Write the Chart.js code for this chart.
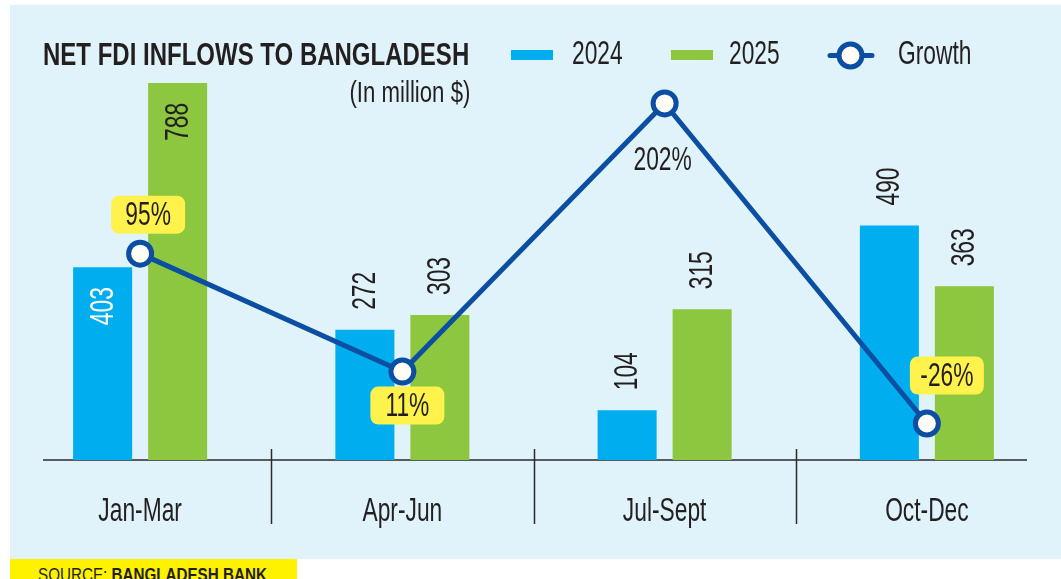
<!DOCTYPE html>
<html>
<head>
<meta charset="utf-8">
<script src="https://cdn.jsdelivr.net/npm/chart.js@4.4.1/dist/chart.umd.min.js"></script>
<style>
  body { margin: 0; width: 1061px; height: 579px; overflow: hidden; position: relative; background: #fff;
         font-family: "Liberation Sans", Arial, sans-serif; color: #231f20; }
  #panel { position: absolute; left: 10px; top: 5px; width: 1051px; height: 554px; background: #e0f3fa; }
  #chartBox { position: absolute; left: 0; top: 0; width: 1061px; height: 579px; }
  #title { position: absolute; left: 43px; top: 38px; font-size: 32px; line-height: 32px; font-weight: bold;
           white-space: nowrap; transform-origin: left top; transform: scaleX(0.75); }
  #sub { position: absolute; right: 591px; top: 77px; font-size: 30px; line-height: 30px; white-space: nowrap;
         transform-origin: right top; transform: scaleX(0.74); }
  #source { position: absolute; left: 10px; top: 559px; width: 287px; height: 20px; background: #fff200; overflow: hidden; }
  #source span { position: absolute; left: 28px; top: 6px; font-size: 19px; line-height: 19px; white-space: nowrap;
                 transform-origin: left top; transform: scaleX(0.8); }
</style>
</head>
<body>
<div id="panel"></div>
<div id="chartBox"><canvas id="fdiChart"></canvas></div>
<div id="title">NET FDI INFLOWS TO BANGLADESH</div>
<div id="sub">(In million $)</div>
<div id="source"><span>SOURCE: <b>BANGLADESH BANK</b></span></div>
<script>
var categories = ["Jan-Mar", "Apr-Jun", "Jul-Sept", "Oct-Dec"];
var fdi2024 = [403, 272, 104, 490];
var fdi2025 = [788, 303, 315, 363];
var growth = [95, 11, 202, -26];

var FONT = '33px "Liberation Sans", Arial, sans-serif';
var NARROW = 0.69;
var DARK = "#231f20";
var BLUE_LINE = "#0b4ea2";

// bar labels drawn inside the bar for these (dataset-index), others sit above
var insideLabels = { "0-0": "#ffffff", "1-0": DARK };
// growth label offsets from the point, and whether it gets a yellow tag
var growthTags = [
  { dx: 8, dy: -39, box: true },
  { dx: 5, dy: 34, box: true },
  { dx: -2, dy: 56, box: false },
  { dx: 20, dy: -48, box: true }
];

// condensed text: the reference uses a narrow face, so squeeze Liberation Sans
function narrowText(ctx, txt, x, y, align, angle) {
  ctx.save();
  ctx.translate(x, y);
  if (angle) ctx.rotate(angle);
  ctx.scale(NARROW, 1);
  ctx.textAlign = align || "center";
  ctx.fillText(txt, 0, 0);
  ctx.restore();
}

var labelPlugin = {
  id: "valueLabels",
  afterDatasetsDraw: function(chart) {
    var ctx = chart.ctx;
    ctx.save();
    ctx.font = FONT;
    ctx.textBaseline = "middle";

    [0, 1].forEach(function(di) {
      var meta = chart.getDatasetMeta(di);
      meta.data.forEach(function(bar, i) {
        var txt = String(chart.data.datasets[di].data[i]);
        var tw = ctx.measureText(txt).width * NARROW;
        var key = di + "-" + i;
        var cy;
        if (insideLabels[key]) {
          ctx.fillStyle = insideLabels[key];
          cy = bar.y + 20 + tw / 2;
        } else {
          ctx.fillStyle = DARK;
          cy = bar.y - 20 - tw / 2;
        }
        narrowText(ctx, txt, bar.x + 1, cy, "center", -Math.PI / 2);
      });
    });

    var lineMeta = chart.getDatasetMeta(2);
    lineMeta.data.forEach(function(pt, i) {
      var tag = growthTags[i];
      var cx = pt.x + tag.dx, cy = pt.y + tag.dy;
      if (tag.box) {
        ctx.fillStyle = "#fff24d";
        ctx.beginPath();
        ctx.roundRect(cx - 37, cy - 19, 74, 38, 8);
        ctx.fill();
      }
      ctx.fillStyle = DARK;
      narrowText(ctx, growth[i] + "%", cx, cy + 1, "center");
    });
    ctx.restore();
  }
};

var axisPlugin = {
  id: "axisLines",
  beforeDatasetsDraw: function(chart) {
    var ctx = chart.ctx, area = chart.chartArea, x = chart.scales.x;
    ctx.save();
    ctx.strokeStyle = "#2b2b2b";
    ctx.lineWidth = 1.5;
    ctx.beginPath();
    ctx.moveTo(area.left + 34, area.bottom);
    ctx.lineTo(area.right - 31, area.bottom);
    for (var i = 0; i < categories.length - 1; i++) {
      var sx = Math.round((x.getPixelForValue(i) + x.getPixelForValue(i + 1)) / 2) + 0.5;
      ctx.moveTo(sx, area.bottom - 11);
      ctx.lineTo(sx, area.bottom + 64);
    }
    ctx.stroke();

    // category labels along the x scale
    ctx.font = FONT;
    ctx.textBaseline = "middle";
    ctx.fillStyle = DARK;
    x.ticks.forEach(function(t, i) {
      narrowText(ctx, x.getLabelForValue(t.value), x.getPixelForTick(i), area.bottom + 52, "center");
    });
    ctx.restore();
  }
};

var legendPlugin = {
  id: "fixedLegend",
  afterDraw: function(chart) {
    var ctx = chart.ctx, ds = chart.data.datasets;
    ctx.save();
    ctx.font = FONT;
    ctx.textBaseline = "middle";
    ctx.fillStyle = ds[0].backgroundColor;
    ctx.fillRect(511, 50, 42, 10);
    ctx.fillStyle = ds[1].backgroundColor;
    ctx.fillRect(671, 50, 42, 10);
    ctx.strokeStyle = ds[2].borderColor;
    ctx.lineWidth = 5;
    ctx.lineCap = "round";
    ctx.beginPath();
    ctx.moveTo(830, 55.5);
    ctx.lineTo(872, 55.5);
    ctx.stroke();
    ctx.beginPath();
    ctx.arc(850.5, 55.5, 11.5, 0, Math.PI * 2);
    ctx.fillStyle = ds[2].pointBackgroundColor;
    ctx.fill();
    ctx.stroke();
    ctx.fillStyle = DARK;
    narrowText(ctx, ds[0].label, 572, 55, "left");
    narrowText(ctx, ds[1].label, 729, 55, "left");
    narrowText(ctx, ds[2].label, 898, 55, "left");
    ctx.restore();
  }
};

var ctx = document.getElementById("fdiChart").getContext("2d");

var myChart = new Chart(ctx, {
  type: "bar",
  data: {
    labels: categories,
    datasets: [{
        label: "2024",
        backgroundColor: "#00aeef",
        borderWidth: 0,
        order: 1,
        yAxisID: "y",
        data: fdi2024
      },
      {
        label: "2025",
        backgroundColor: "#8dc63f",
        borderWidth: 0,
        order: 1,
        yAxisID: "y",
        data: fdi2025
      },
      {
        type: "line",
        label: "Growth",
        borderColor: BLUE_LINE,
        borderWidth: 5,
        pointBackgroundColor: "#fffef6",
        pointBorderColor: BLUE_LINE,
        pointBorderWidth: 5,
        pointRadius: 11.5,
        fill: false,
        tension: 0,
        order: 0,
        yAxisID: "y1",
        data: growth
      }
    ]
  },
  options: {
    responsive: true,
    maintainAspectRatio: false,
    animation: false,
    categoryPercentage: 0.572,
    barPercentage: 0.787,
    layout: { autoPadding: false, padding: { top: 30, left: 9, right: 3, bottom: 119 } },
    scales: {
      x: {
        grid: { display: false, drawTicks: false },
        border: { display: false },
        ticks: { display: false }
      },
      y: { display: false, min: 0, max: 898.6 },
      y1: { display: false, min: -52, max: 254.3 }
    },
    plugins: {
      legend: { display: false },
      tooltip: { enabled: false }
    }
  },
  plugins: [axisPlugin, labelPlugin, legendPlugin]
});
</script>
</body>
</html>
